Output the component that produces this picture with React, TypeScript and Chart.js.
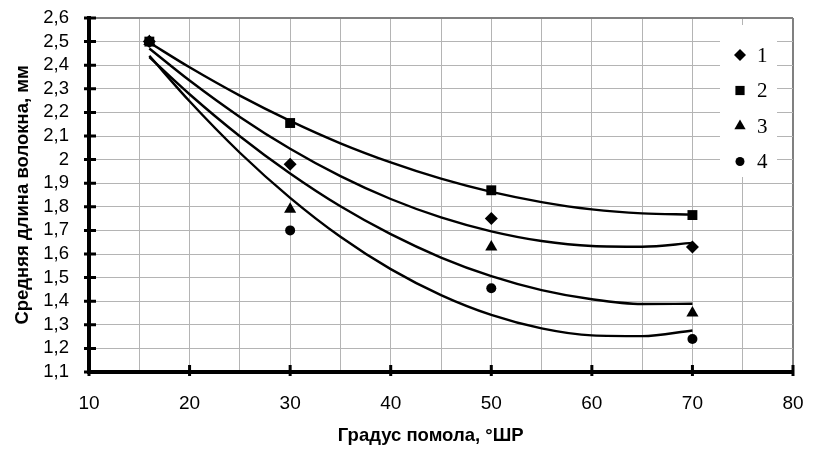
import React, { useEffect, useRef } from 'react';
import { Chart, registerables } from 'chart.js';
import { drawPoint } from 'chart.js/helpers';

Chart.register(...registerables);

// Measured points (Градус помола, °ШР → средняя длина волокна, мм)
const grindDegree = [16, 30, 50, 70];
const series1 = [2.5, 1.98, 1.75, 1.63];
const series2 = [2.5, 2.155, 1.87, 1.765];
const series3 = [2.5, 1.79, 1.63, 1.35];
const series4 = [2.5, 1.7, 1.455, 1.24];

// Trend curves
const trendX = [16, 20, 25, 30, 35, 40, 45, 50, 55, 60, 65, 70];
const trend1 = [2.471, 2.335, 2.181, 2.046, 1.93, 1.833, 1.755, 1.696, 1.655, 1.634, 1.631, 1.647];
const trend2 = [2.496, 2.391, 2.271, 2.164, 2.069, 1.988, 1.919, 1.863, 1.82, 1.789, 1.772, 1.767];
const trend3 = [2.434, 2.277, 2.099, 1.941, 1.802, 1.684, 1.585, 1.506, 1.447, 1.408, 1.388, 1.389];
const trend4 = [2.44, 2.247, 2.029, 1.838, 1.673, 1.536, 1.426, 1.342, 1.285, 1.255, 1.252, 1.276];

const seriesLabels = ['1', '2', '3', '4'];
const pointStyles = ['rectRot', 'rect', 'triangle', 'circle'];
const pointRadii = [6.5, 7, 7, 5];

const xTickLabels = ['10', '', '20', '', '30', '', '40', '', '50', '', '60', '', '70', '', '80'];
const yTickLabels = ['1,1', '1,2', '1,3', '1,4', '1,5', '1,6', '1,7', '1,8', '1,9', '2', '2,1', '2,2', '2,3', '2,4', '2,5', '2,6'];

const xTitle = 'Градус помола, °ШР';
const yTitle = 'Средняя длина волокна, мм';

const tickMarks = {
  id: 'tickMarks',
  afterDraw(chart: any) {
    const { ctx, chartArea, scales } = chart;
    const { left, bottom } = chartArea;
    ctx.save();
    ctx.strokeStyle = '#000';
    ctx.lineWidth = 3;
    ctx.beginPath();
    scales.x.ticks.forEach((t: any) => {
      if (Math.round(t.value) % 10 === 0) {
        const px = scales.x.getPixelForValue(t.value);
        ctx.moveTo(px, bottom - 7);
        ctx.lineTo(px, bottom + 4);
      }
    });
    scales.y.ticks.forEach((t: any) => {
      const py = scales.y.getPixelForValue(t.value);
      ctx.moveTo(left - 5, py);
      ctx.lineTo(left + 7, py);
    });
    ctx.stroke();
    ctx.restore();
  },
};

const innerLegend = {
  id: 'innerLegend',
  afterDraw(chart: any) {
    const { ctx, chartArea } = chart;
    const boxRight = chartArea.right - 16;
    const boxLeft = boxRight - 57;
    const boxTop = chartArea.top + 7;
    ctx.save();
    ctx.fillStyle = '#fff';
    ctx.fillRect(boxLeft, boxTop, 57, 152);
    ctx.fillStyle = '#000';
    ctx.font = '21px "Liberation Serif", "Times New Roman", serif';
    ctx.textBaseline = 'middle';
    ctx.textAlign = 'left';
    seriesLabels.forEach((lab, i) => {
      const cy = boxTop + 30 + i * 35.5;
      const mx = boxLeft + 20;
      drawPoint(ctx, { pointStyle: pointStyles[i], radius: pointRadii[i] - 0.5, rotation: 0, borderWidth: 0 } as any, mx, cy);
      ctx.fillText(lab, mx + 17, cy + 1);
    });
    ctx.restore();
  },
};

export default function App() {
  const ref = useRef<HTMLCanvasElement | null>(null);

  useEffect(() => {
    if (!ref.current) return;
    const seriesVals = [series1, series2, series3, series4];
    const trends = [trend1, trend2, trend3, trend4];
    const pointSets = seriesVals.map((vals, i) => ({
      label: seriesLabels[i],
      data: grindDegree.map((x, j) => ({ x, y: vals[j] })),
      showLine: false,
      pointStyle: pointStyles[i],
      pointRadius: pointRadii[i],
      pointBackgroundColor: '#000',
      pointBorderColor: '#000',
      pointBorderWidth: 0,
    }));
    const trendSets = trends.map((vals, i) => ({
      label: 'trend ' + seriesLabels[i],
      data: trendX.map((x, j) => ({ x, y: vals[j] })),
      showLine: true,
      borderColor: '#000',
      borderWidth: 2.4,
      pointRadius: 0,
      cubicInterpolationMode: 'monotone',
      fill: false,
    }));

    const chart = new Chart(ref.current, {
      type: 'scatter',
      data: { datasets: [...pointSets, ...trendSets] as any },
      options: {
        responsive: false,
        animation: false,
        events: [],
        layout: { padding: { left: 8, top: 18, right: 20, bottom: 0 } },
        plugins: { legend: { display: false }, tooltip: { enabled: false } },
        scales: {
          x: {
            type: 'linear',
            min: 10,
            max: 80,
            afterFit(scale: any) {
              scale.height = 78;
              scale.paddingLeft = 0;
              scale.paddingRight = 0;
            },
            ticks: {
              stepSize: 5,
              autoSkip: false,
              maxRotation: 0,
              padding: 20,
              color: '#000',
              font: { family: '"Liberation Sans", Arial, sans-serif', size: 19 },
              callback: (_v: any, i: number) => xTickLabels[i] ?? '',
            },
            grid: {
              drawTicks: false,
              color: (c: any) => (c.tick && Math.round(c.tick.value) === 80 ? '#808080' : '#b4b4b4'),
              lineWidth: (c: any) => (c.tick && Math.round(c.tick.value) === 80 ? 2 : 1),
            },
            border: { display: true, color: '#000', width: 4 },
            title: {
              display: true,
              text: xTitle + '\u00A0\u00A0\u00A0\u00A0',
              color: '#000',
              font: { family: '"Liberation Sans", Arial, sans-serif', size: 18.5, weight: 'bold' },
              padding: { top: 4, bottom: 3 },
            },
          },
          y: {
            type: 'linear',
            min: 1.1,
            max: 2.6,
            afterFit(scale: any) {
              scale.width = 81;
              scale.paddingTop = 0;
              scale.paddingBottom = 0;
            },
            ticks: {
              stepSize: 0.1,
              autoSkip: false,
              padding: 20,
              color: '#000',
              font: { family: '"Liberation Sans", Arial, sans-serif', size: 18.5 },
              callback: (v: any) => {
                const k = Math.round(Number(v) * 10) - 11;
                return yTickLabels[k] ?? '';
              },
            },
            grid: {
              drawTicks: false,
              color: (c: any) => (c.tick && Math.round(c.tick.value * 10) === 26 ? '#808080' : '#b4b4b4'),
              lineWidth: (c: any) => (c.tick && Math.round(c.tick.value * 10) === 26 ? 2 : 1),
            },
            border: { display: true, color: '#000', width: 4 },
            title: {
              display: true,
              text: yTitle,
              color: '#000',
              font: { family: '"Liberation Sans", Arial, sans-serif', size: 18.5, weight: 'bold' },
              padding: { top: 4, bottom: 4 },
            },
          },
        },
      },
      plugins: [tickMarks, innerLegend],
    });
    return () => chart.destroy();
  }, []);

  return (
    <div style={{ position: 'fixed', left: 0, top: 0, width: 813, height: 450, background: '#fff' }}>
      <canvas ref={ref} width={813} height={450} />
    </div>
  );
}
